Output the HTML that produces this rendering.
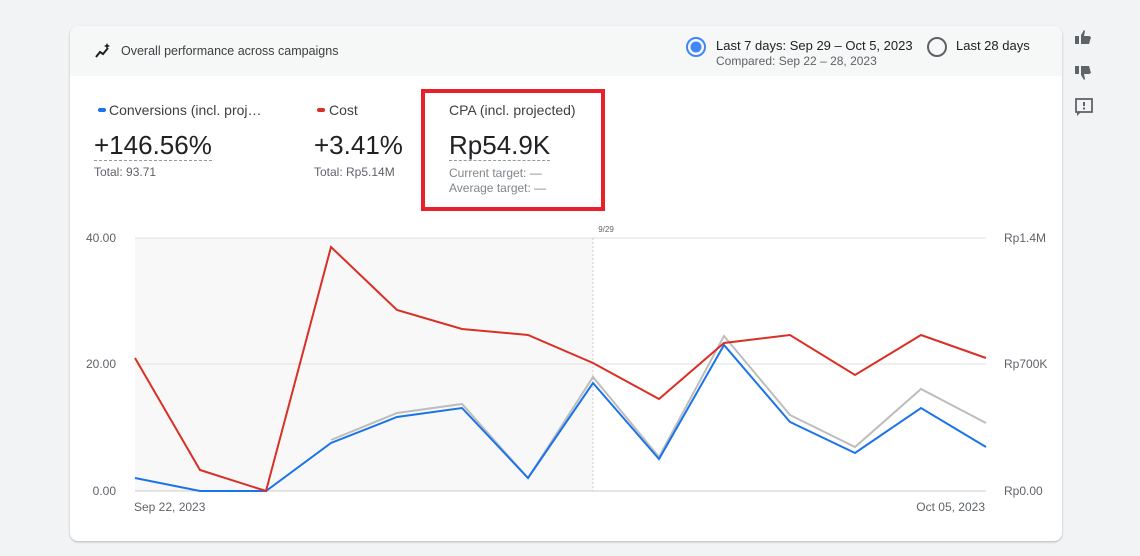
<!DOCTYPE html>
<html><head><style>
body{margin:0;width:1140px;height:556px;background:#f1f3f4;font-family:"Liberation Sans",Arial,sans-serif;position:relative;overflow:hidden}
.card{position:absolute;left:70px;top:26px;width:992px;height:515px;background:#fff;border-radius:8px;box-shadow:0 1px 2px rgba(0,0,0,.25);overflow:hidden}
.hdr{position:absolute;left:0;top:0;width:992px;height:50px;background:#f6f7f7}
.t{position:absolute;white-space:nowrap;color:#3c4043}
</style></head><body>
<div class="card">
<div class="hdr"></div>
<svg style="position:absolute;left:24px;top:16px" width="18" height="18" viewBox="0 0 18 18"><path d="M2 15 L6 10 L9 12 L14 6" stroke="#202124" stroke-width="2" fill="none"/><path d="M13 1 l1 2 2 1 -2 1 -1 2 -1-2 -2-1 2-1z" fill="#202124"/></svg>
<div class="t" style="left:51px;top:18px;font-size:12.5px">Overall performance across campaigns</div>
<svg style="position:absolute;left:615px;top:10px" width="22" height="22"><circle cx="11" cy="11" r="9" fill="none" stroke="#4285f4" stroke-width="2"/><circle cx="11" cy="11" r="5.5" fill="#4285f4"/></svg>
<div class="t" style="left:646px;top:12px;font-size:13px;color:#202124">Last 7 days: Sep 29 – Oct 5, 2023</div>
<div class="t" style="left:646px;top:28px;font-size:12px;color:#5f6368">Compared: Sep 22 – 28, 2023</div>
<svg style="position:absolute;left:856px;top:10px" width="22" height="22"><circle cx="11" cy="11" r="9" fill="none" stroke="#5f6368" stroke-width="2"/></svg>
<div class="t" style="left:886px;top:12px;font-size:13px;color:#202124">Last 28 days</div>

<div style="position:absolute;left:28px;top:82px;width:8px;height:4px;background:#1a73e8;border-radius:2px"></div>
<div class="t" style="left:39px;top:76px;font-size:14px">Conversions (incl. proj…</div>
<div class="t" style="left:24px;top:104px;font-size:26px;color:#202124;border-bottom:1px dashed #999;line-height:30px">+146.56%</div>
<div class="t" style="left:24px;top:139px;font-size:12px;color:#5f6368">Total: 93.71</div>
<div style="position:absolute;left:247px;top:82px;width:8px;height:4px;background:#d93025;border-radius:2px"></div>
<div class="t" style="left:259px;top:76px;font-size:14px">Cost</div>
<div class="t" style="left:244px;top:104px;font-size:26px;color:#202124;line-height:30px">+3.41%</div>
<div class="t" style="left:244px;top:139px;font-size:12px;color:#5f6368">Total: Rp5.14M</div>
<div style="position:absolute;left:351px;top:63px;width:176px;height:114px;border:4px solid #e8202a"></div>
<div class="t" style="left:379px;top:76px;font-size:14px">CPA (incl. projected)</div>
<div class="t" style="left:379px;top:104px;font-size:26px;color:#202124;border-bottom:1px dashed #999;line-height:30px">Rp54.9K</div>
<div class="t" style="left:379px;top:140px;font-size:12px;color:#80868b">Current target: —</div>
<div class="t" style="left:379px;top:155px;font-size:12px;color:#80868b">Average target: —</div>
</div>
<svg style="position:absolute;left:0;top:0" width="1140" height="556">
<rect x="135" y="238" width="458" height="253" fill="#f8f8f8"/>
<line x1="135" y1="238" x2="986" y2="238" stroke="#e0e0e0"/>
<line x1="135" y1="364" x2="986" y2="364" stroke="#e0e0e0"/>
<line x1="135" y1="491" x2="986" y2="491" stroke="#ccc"/>
<line x1="593" y1="238" x2="593" y2="491" stroke="#ccc" stroke-dasharray="2,2"/>
<text x="606" y="232" font-size="8" fill="#5f6368" text-anchor="middle" font-family="Liberation Sans">9/29</text>
<g font-family="Liberation Sans" font-size="12" fill="#5f6368">
<text x="116" y="242" text-anchor="end">40.00</text>
<text x="116" y="368" text-anchor="end">20.00</text>
<text x="116" y="495" text-anchor="end">0.00</text>
<text x="1004" y="242">Rp1.4M</text>
<text x="1004" y="368">Rp700K</text>
<text x="1004" y="495">Rp0.00</text>
<text x="134" y="511">Sep 22, 2023</text>
<text x="985" y="511" text-anchor="end">Oct 05, 2023</text>
</g>
<polyline fill="none" stroke="#bdbdbd" stroke-width="2" points="331,440 397,413 462,404 528,478 593,377 659,457 724,336 790,415 855,447 921,389 986,423"/>
<polyline fill="none" stroke="#1a73e8" stroke-width="2" points="135,478 200,491 266,491 331,443 397,417 462,408 528,478 593,383 659,459 724,345 790,422 855,453 921,408 986,447"/>
<polyline fill="none" stroke="#d93025" stroke-width="2" points="135,358 200,470 266,491 331,247 397,310 462,329 528,335 593,363 659,399 724,343 790,335 855,375 921,335 986,358"/>
<g fill="#5f6368">
<path d="M1075 36h4v8h-4z M1081 44h8l2-7-2-1h-5l1-5-1-1-3 5z"/>
<path d="M1075 66h4v8h-4z M1081 66h8l2 7-2 1h-5l1 5-1 1-3-5z"/>
</g>
<rect x="1076" y="99" width="16" height="13" fill="none" stroke="#5f6368" stroke-width="1.8"/>
<path d="M1077 112 l0 4 4-4z" fill="#5f6368"/>
<rect x="1083" y="102" width="2" height="4" fill="#5f6368"/><rect x="1083" y="107.5" width="2" height="2" fill="#5f6368"/>
</svg>
</body></html>
